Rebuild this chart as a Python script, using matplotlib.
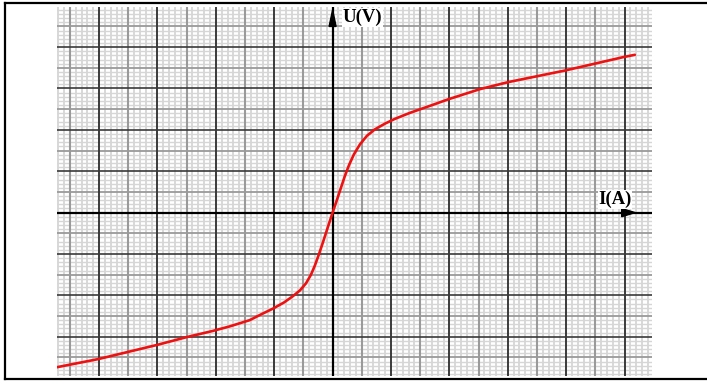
import numpy as np
import matplotlib
matplotlib.use("Agg")
import matplotlib.pyplot as plt
from matplotlib.lines import Line2D
from matplotlib.patches import Polygon

# characteristic U = f(I) (1 big square = 1 unit)
current = [-4.73, -4.01, -3.01, -2.50, -2.05, -1.76, -1.42, -1.21, -1.02,
           -0.83, -0.68, -0.56, -0.457, -0.372, -0.303, -0.235, -0.166, -0.08,
           0.0, 0.074, 0.142, 0.211, 0.279, 0.365, 0.468, 0.587, 0.724,
           0.896, 1.067, 1.324, 1.666, 1.979, 2.522, 3.007, 3.978, 4.976,
           5.176]
voltage = [-3.74, -3.54, -3.20, -3.01, -2.86, -2.75, -2.60, -2.45, -2.32,
           -2.17, -2.02, -1.882, -1.712, -1.506, -1.277, -1.011, -0.721, -0.346,
           0.0, 0.307, 0.597, 0.888, 1.141, 1.408, 1.649, 1.855, 2.012,
           2.150, 2.266, 2.411, 2.580, 2.738, 2.984, 3.154, 3.434, 3.758,
           3.814]

x_label = "I(A)"
y_label = "U(V)"

W, H = 707, 383
fig = plt.figure(figsize=(W / 100, H / 100), dpi=100)
fig.patch.set_facecolor("white")

# frame around the picture
def fx(px):
    return px / W

def fy(py):
    return 1 - py / H

frame = dict(color="black", lw=1.6, transform=fig.transFigure)
fig.add_artist(Line2D([fx(4.5), fx(4.5)], [fy(2.5), fy(379)], **frame))
fig.add_artist(Line2D([fx(4.5), fx(710)], [fy(2.5), fy(2.5)], **frame))
fig.add_artist(Line2D([fx(4.5), fx(710)], [fy(379), fy(379)], **frame))

ax = fig.add_axes([fx(57), fy(376), fx(652) - fx(57), fy(7) - fy(376)])
xmin, xmax = -4.72, 5.47
ymin, ymax = -3.95, 4.97
ax.set_xlim(xmin, xmax)
ax.set_ylim(ymin, ymax)
ax.axis("off")

# graph paper: 1 mm, 5 mm and 1 cm lines
for k in range(int(np.ceil(xmin * 10)), int(np.floor(xmax * 10)) + 1):
    if k == 0:
        continue
    if k % 10 == 0:
        ax.axvline(k / 10, color="#3a3a3a", lw=1.4, zorder=3)
    elif k % 5 == 0:
        ax.axvline(k / 10, color="#9a9a9a", lw=1.5, zorder=2)
    else:
        ax.axvline(k / 10, color="#d2d2d2", lw=1.2, zorder=1)

for k in range(int(np.ceil(ymin * 10)), int(np.floor(ymax * 10)) + 1):
    if k == 0:
        continue
    if k % 10 == 0:
        ax.axhline(k / 10, color="#3a3a3a", lw=1.2, zorder=3)
    elif k % 5 == 0:
        ax.axhline(k / 10, color="#9a9a9a", lw=1.3, zorder=2)
    else:
        ax.axhline(k / 10, color="#d6d6d6", lw=1.0, zorder=1)

# axes through the origin
ax.axvline(0, color="black", lw=1.6, zorder=4)
ax.axhline(0, color="black", lw=1.6, zorder=4)

# arrow heads
ax.add_patch(Polygon([[0, 4.90], [-0.06, 4.50], [0.06, 4.50]],
                     closed=True, color="black", zorder=5, clip_on=False))
ax.add_patch(Polygon([[5.18, 0], [4.95, 0.10], [4.95, -0.10]],
                     closed=True, color="black", zorder=5, clip_on=False))

ax.plot(current, voltage, color="#ee1111", lw=1.9, zorder=6,
        solid_capstyle="round", solid_joinstyle="round")

txt = dict(family="Liberation Serif", weight="bold", fontsize=13.5,
           color="black", zorder=7,
           bbox=dict(facecolor="white", edgecolor="none", pad=0.5))
ax.text(0.17, 4.72, y_label, ha="left", va="center", **txt)
ax.text(4.55, 0.32, x_label, ha="left", va="center", **txt)

fig.savefig("out.png", dpi=100)
